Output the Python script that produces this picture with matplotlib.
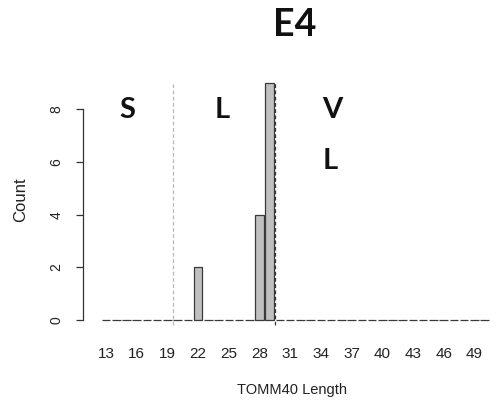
import matplotlib
matplotlib.use("Agg")
import matplotlib.pyplot as plt

# TOMM40 length bins and counts (E4 group)
lengths = list(range(13, 51))
counts = [0] * len(lengths)
counts[lengths.index(22)] = 2
counts[lengths.index(28)] = 4
counts[lengths.index(29)] = 9

tick_labels = list(range(13, 50, 3))
y_ticks = [0, 2, 4, 6, 8]
cutoffs = [19.5, 29.5]
region_labels = ["S", "L", "V\nL"]
region_pos = [(15.1, 7.67), (24.4, 7.67), (35.1, 7.67)]

fig = plt.figure(figsize=(4.97, 4.01), dpi=100)
ax = fig.add_axes([83 / 497, 71 / 401, 411.8 / 497, 257 / 401])

ax.bar(lengths, counts, width=1 / 1.2, color="#c0c0c0",
       edgecolor="#3a3a3a", linewidth=0.9)

# cutoff lines between S / L / VL
ax.vlines(cutoffs[0], -0.2, 8.95, colors="#b8b8b8", linestyles=(0, (3, 2)), linewidth=0.9)
ax.vlines(cutoffs[1], -0.2, 9.0, colors="#333333", linestyles=(0, (3, 2)), linewidth=0.9)

for lab, (x, y) in zip(region_labels[:2], region_pos[:2]):
    ax.text(x, y, lab, ha="center", va="baseline", fontsize=21,
            fontweight="bold", family="Lato", color="#111111")
ax.text(region_pos[2][0], region_pos[2][1], "V", ha="center", va="baseline",
        fontsize=21, fontweight="bold", family="Lato", color="#111111")
ax.text(region_pos[2][0] - 0.15, 5.73, "L", ha="center", va="baseline",
        fontsize=21, fontweight="bold", family="Lato", color="#111111")

ax.set_xlim(10.75, 51)
ax.set_ylim(-0.38, 9.38)

for s in ["top", "right", "bottom"]:
    ax.spines[s].set_visible(False)
ax.spines["left"].set_bounds(0, 8)
ax.spines["left"].set_color("#333333")
ax.spines["left"].set_linewidth(0.9)

ax.set_xticks(tick_labels)
ax.set_xticklabels([str(t) for t in tick_labels], fontsize=11,
                   family="Liberation Sans", color="#222222")
ax.tick_params(axis="x", length=0, pad=12)

ax.set_yticks(y_ticks)
ax.set_yticklabels([str(t) for t in y_ticks], fontsize=10, rotation=90,
                   va="center", family="Liberation Sans", color="#222222")
ax.tick_params(axis="y", length=5, width=0.9, color="#333333", pad=9)

fig.text(21 / 497, 1 - 200 / 401, "Count", rotation=90, ha="center", va="center",
         fontsize=12, family="Liberation Sans", color="#222222")
fig.text(292 / 497, 1 - 390 / 401, "TOMM40 Length", ha="center", va="center",
         fontsize=10.5, family="Liberation Sans", color="#222222")
fig.text(295 / 497, 1 - 36 / 401, "E4", ha="center", va="baseline",
         fontsize=27, fontweight="bold", family="Lato", color="#111111")

fig.savefig("out.png", dpi=100)
